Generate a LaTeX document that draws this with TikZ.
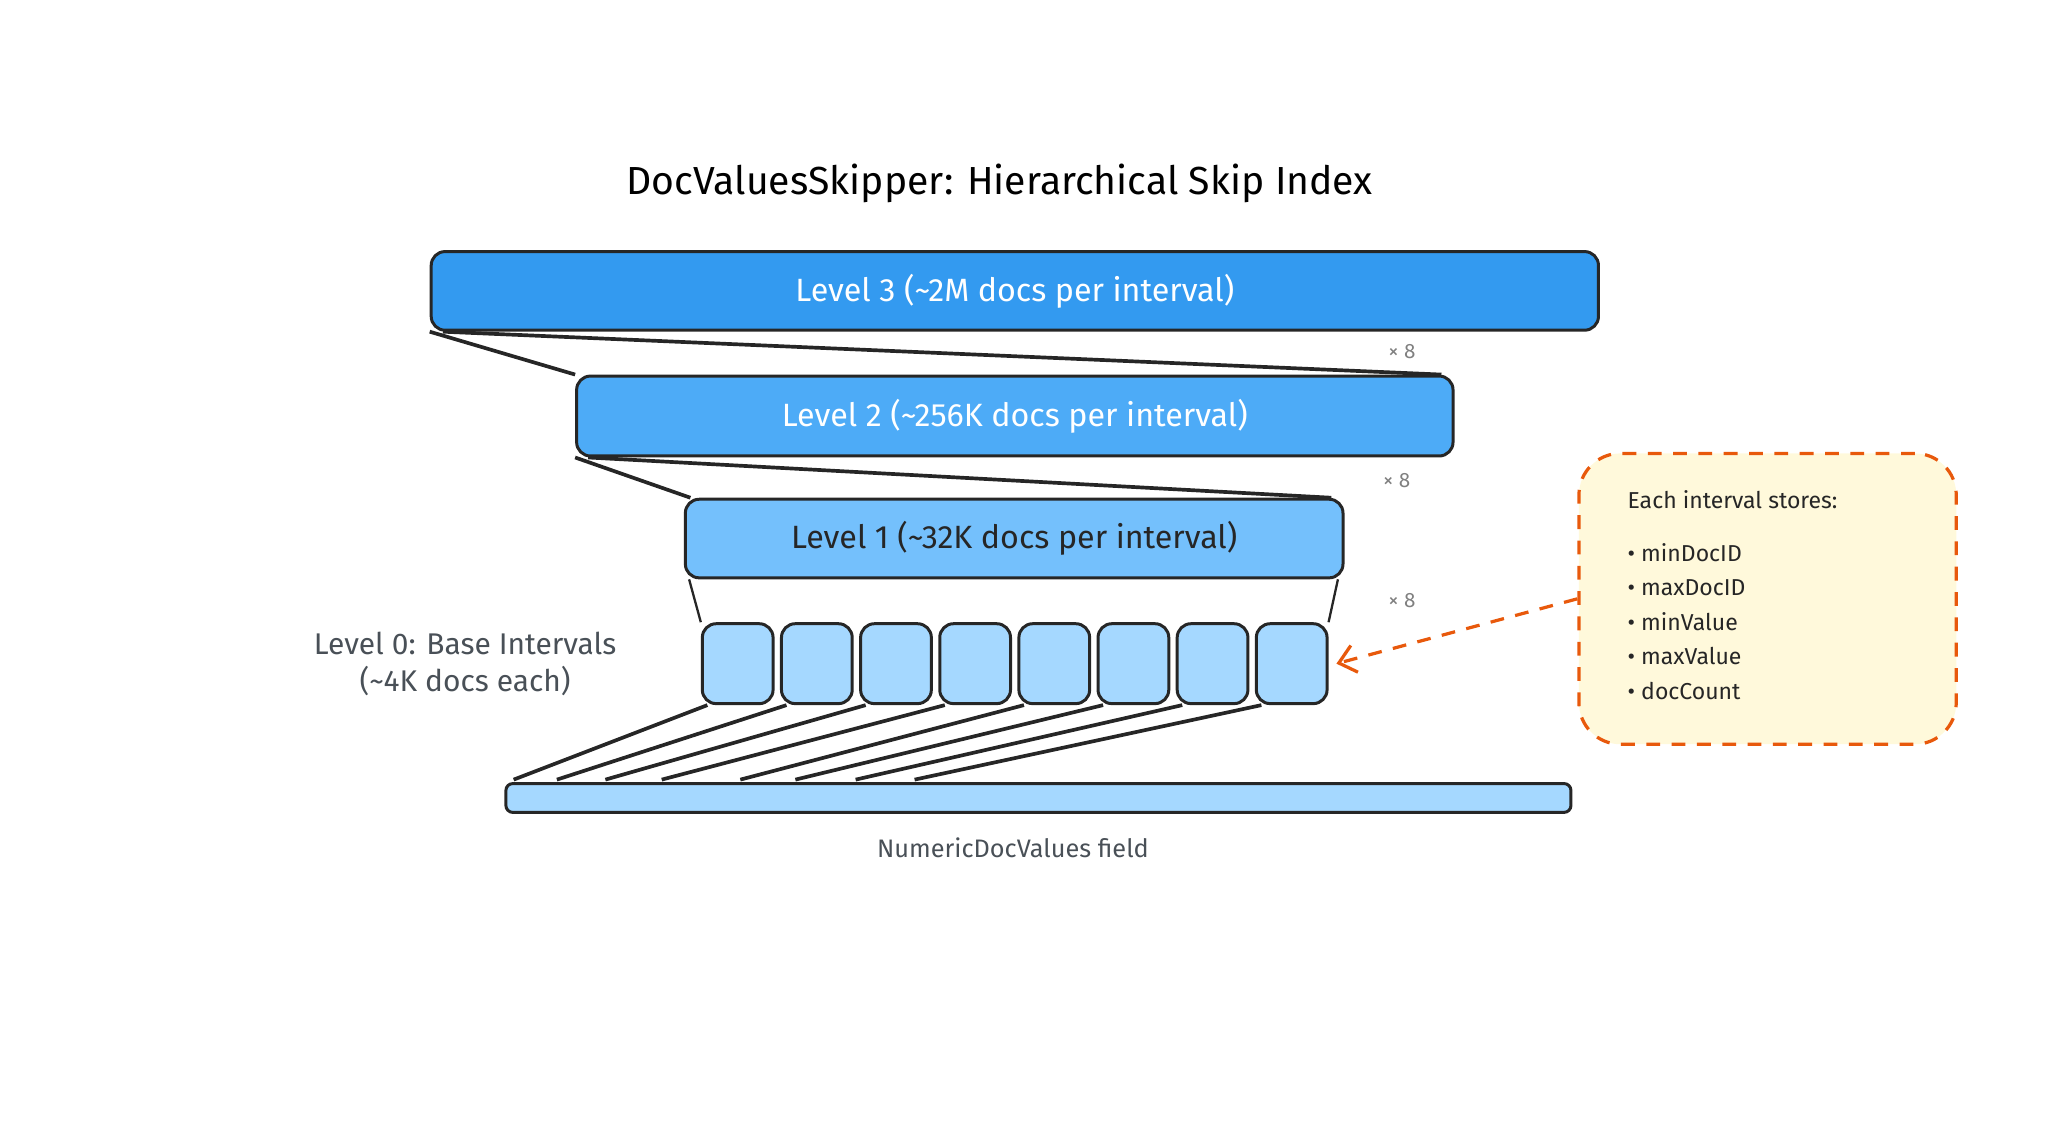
\documentclass[tikz,border=0pt]{standalone}
\usepackage{fontspec}
\setmainfont{Fira Sans}
\usetikzlibrary{arrows.meta}
\usetikzlibrary{positioning}
\definecolor{blueA}{HTML}{339AF0}
\definecolor{blueB}{HTML}{4DABF7}
\definecolor{blueC}{HTML}{74C0FC}
\definecolor{blueD}{HTML}{A5D8FF}
\definecolor{noteFill}{HTML}{FFF9DB}
\definecolor{noteLine}{HTML}{E8590C}
\definecolor{inkGray}{HTML}{495057}
\tikzset{
  levelbox/.style={draw=black!85, line width=1.3pt, rounded corners=6pt, inner sep=0pt},
  baseint/.style={levelbox, fill=blueD, minimum width=1.08cm, minimum height=1.22cm},
  fan/.style={line width=1.6pt, black!85},
  times/.style={text=gray, font=\fontsize{9}{10}\selectfont}
}
\begin{document}
\begin{tikzpicture}[x=0.02cm, y=-0.02cm]
\useasboundingbox (0,0) rectangle (1563,872);

% title
\node (title) at (763,140) {\fontsize{17}{20}\selectfont DocValuesSkipper: Hierarchical Skip Index};

% level 3
\node[levelbox, fill=blueA, minimum width=17.82cm, minimum height=1.2cm, text=white,
  font=\fontsize{14}{16}\selectfont] (lvlC) at (774.5,222) {Level 3 (\textasciitilde 2M docs per interval)};
% level 2
\node[levelbox, fill=blueB, minimum width=13.38cm, minimum height=1.22cm, text=white,
  font=\fontsize{14}{16}\selectfont] (lvlB) at (774.5,317.5) {Level 2 (\textasciitilde 256K docs per interval)};
% level 1
\node[levelbox, fill=blueC, minimum width=10.04cm, minimum height=1.2cm, text=black!85,
  font=\fontsize{14}{16}\selectfont] (lvlA) at (774,411) {Level 1 (\textasciitilde 32K docs per interval)};

% level 0
\foreach \i in {0,...,7}
  \node[baseint] (base\i) at (563+60.4*\i,506.5) {};
\node[align=center, text=inkGray, font=\fontsize{13}{16}\selectfont] (baselabel) at (355,507)
  {Level 0: Base Intervals\\(\textasciitilde 4K docs each)};

% field
\node[levelbox, rounded corners=3pt, fill=blueD, minimum width=16.26cm, minimum height=0.44cm] (field) at (792.5,609) {};
\node[text=inkGray, font=\fontsize{11}{13}\selectfont] (fieldlabel) at (773,647) {NumericDocValues field};

% fan lines
\draw[fan] (lvlC.south west) -- (lvlB.north west);
\draw[fan] ([xshift=0.2cm]lvlC.south west) -- ([xshift=-0.2cm]lvlB.north east);
\draw[fan] (lvlB.south west) -- ([xshift=0.1cm]lvlA.north west);
\draw[fan] ([xshift=0.2cm]lvlB.south west) -- ([xshift=-0.2cm]lvlA.north east);
\draw[fan, line width=1pt] ([xshift=0.08cm]lvlA.south west) -- (base0.north west);
\draw[fan, line width=1pt] ([xshift=-0.1cm]lvlA.south east) -- (base7.north east);
\node[times] (xC) at (1070,268) {× 8};
\node[times] (xB) at (1066,367) {× 8};
\node[times] (xA) at (1070,458) {× 8};

\foreach \i/\e in {0/392,1/425,2/462,3/505,4/565,5/607,6/653,7/698}
  \draw[fan] ([xshift=0.1cm]base\i.south west) -- (\e,595);

% note
\node[draw=noteLine, dashed, dash pattern=on 6pt off 5pt, line width=1.4pt, fill=noteFill,
  rounded corners=18pt, minimum width=5.76cm, minimum height=4.44cm] (note) at (1349,457) {};
\node[anchor=north west, align=left, font=\fontsize{10}{15}\selectfont, text=black!85] (notetext) at (1236,368)
  {Each interval stores:\\[8pt]
   • minDocID\\ • maxDocID\\ • minValue\\ • maxValue\\ • docCount};
\draw[noteLine, line width=1.4pt, dashed, dash pattern=on 6pt off 5pt, -{Straight Barb[length=7pt,width=12pt]}]
  (note.west) -- ([xshift=0.12cm]base7.east);

\end{tikzpicture}
\end{document}
